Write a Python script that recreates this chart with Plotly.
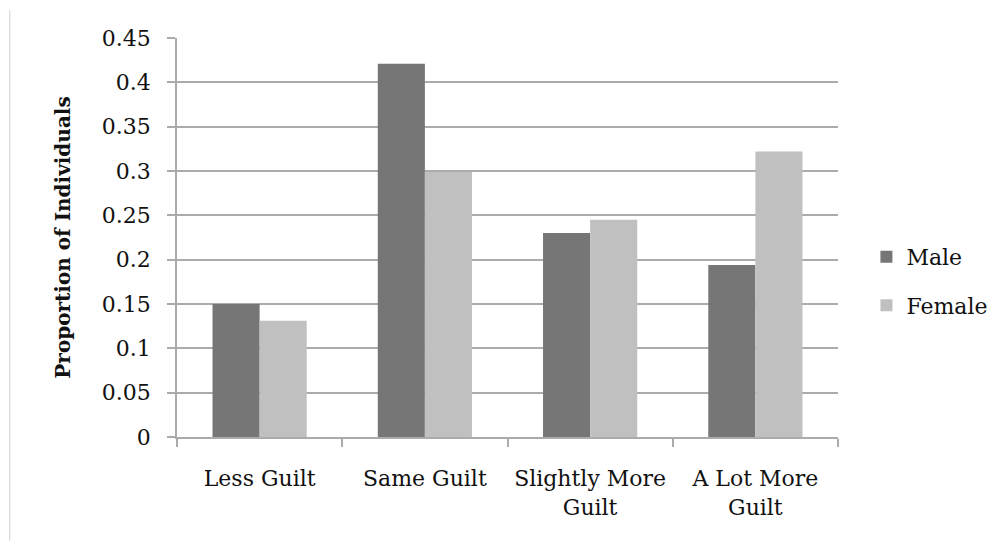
import plotly.graph_objects as go

# Survey responses: proportion of individuals by guilt level and sex
categories = ["Less Guilt", "Same Guilt", "Slightly More<br>Guilt", "A Lot More<br>Guilt"]
male = [0.150, 0.421, 0.230, 0.194]
female = [0.131, 0.299, 0.245, 0.322]
y_ticks = [0, 0.05, 0.1, 0.15, 0.2, 0.25, 0.3, 0.35, 0.4, 0.45]
y_tick_text = ["0", "0.05", "0.1", "0.15", "0.2", "0.25", "0.3", "0.35", "0.4", "0.45"]

FONT = "DejaVu Serif"
TEXT = "#111111"
GRID = "#ababab"

fig = go.Figure()
fig.add_trace(go.Bar(x=categories, y=male, name="Male", legendgroup="m",
                     marker=dict(color="#767676", line=dict(width=0))))
fig.add_trace(go.Bar(x=categories, y=female, name="Female", legendgroup="f",
                     marker=dict(color="#c0c0c0", line=dict(width=0))))

fig.update_layout(
    width=989, height=541,
    margin=dict(l=177, r=151, t=38, b=104, autoexpand=False),
    paper_bgcolor="white", plot_bgcolor="white",
    barmode="group", bargap=0.43, bargroupgap=0,
    font=dict(family=FONT, size=22, color=TEXT),
    legend=dict(x=1.043, y=0.39, xanchor="left", yanchor="middle",
                font=dict(family=FONT, size=22, color=TEXT),
                tracegroupgap=17, itemwidth=30),
    showlegend=True,
)

fig.update_xaxes(
    type="category", showgrid=False, showline=True, linecolor=GRID, linewidth=1.5,
    ticks="outside", tickson="boundaries", ticklen=8, tickcolor=GRID, tickwidth=1.5,
    tickangle=0, ticklabelstandoff=21,
    tickfont=dict(family=FONT, size=22, color=TEXT),
)
fig.update_yaxes(
    range=[0, 0.45], tickvals=y_ticks, ticktext=y_tick_text,
    showgrid=True, gridcolor=GRID, gridwidth=1.5, zeroline=False,
    showline=True, linecolor=GRID, linewidth=1.5,
    ticks="outside", ticklen=8, tickcolor=GRID, tickwidth=1.5, ticklabelstandoff=12,
    tickfont=dict(family=FONT, size=22, color=TEXT),
    title=dict(text="<b>Proportion of Individuals</b>", standoff=26,
               font=dict(family=FONT, size=20, color=TEXT)),
)

# Thin frame edge at the left of the chart area
fig.add_shape(type="line", xref="paper", yref="paper",
              x0=-0.2530, x1=-0.2530, y0=1.07, y1=-0.26,
              line=dict(color="#cfcfcf", width=1))

fig.write_html("out.html")
